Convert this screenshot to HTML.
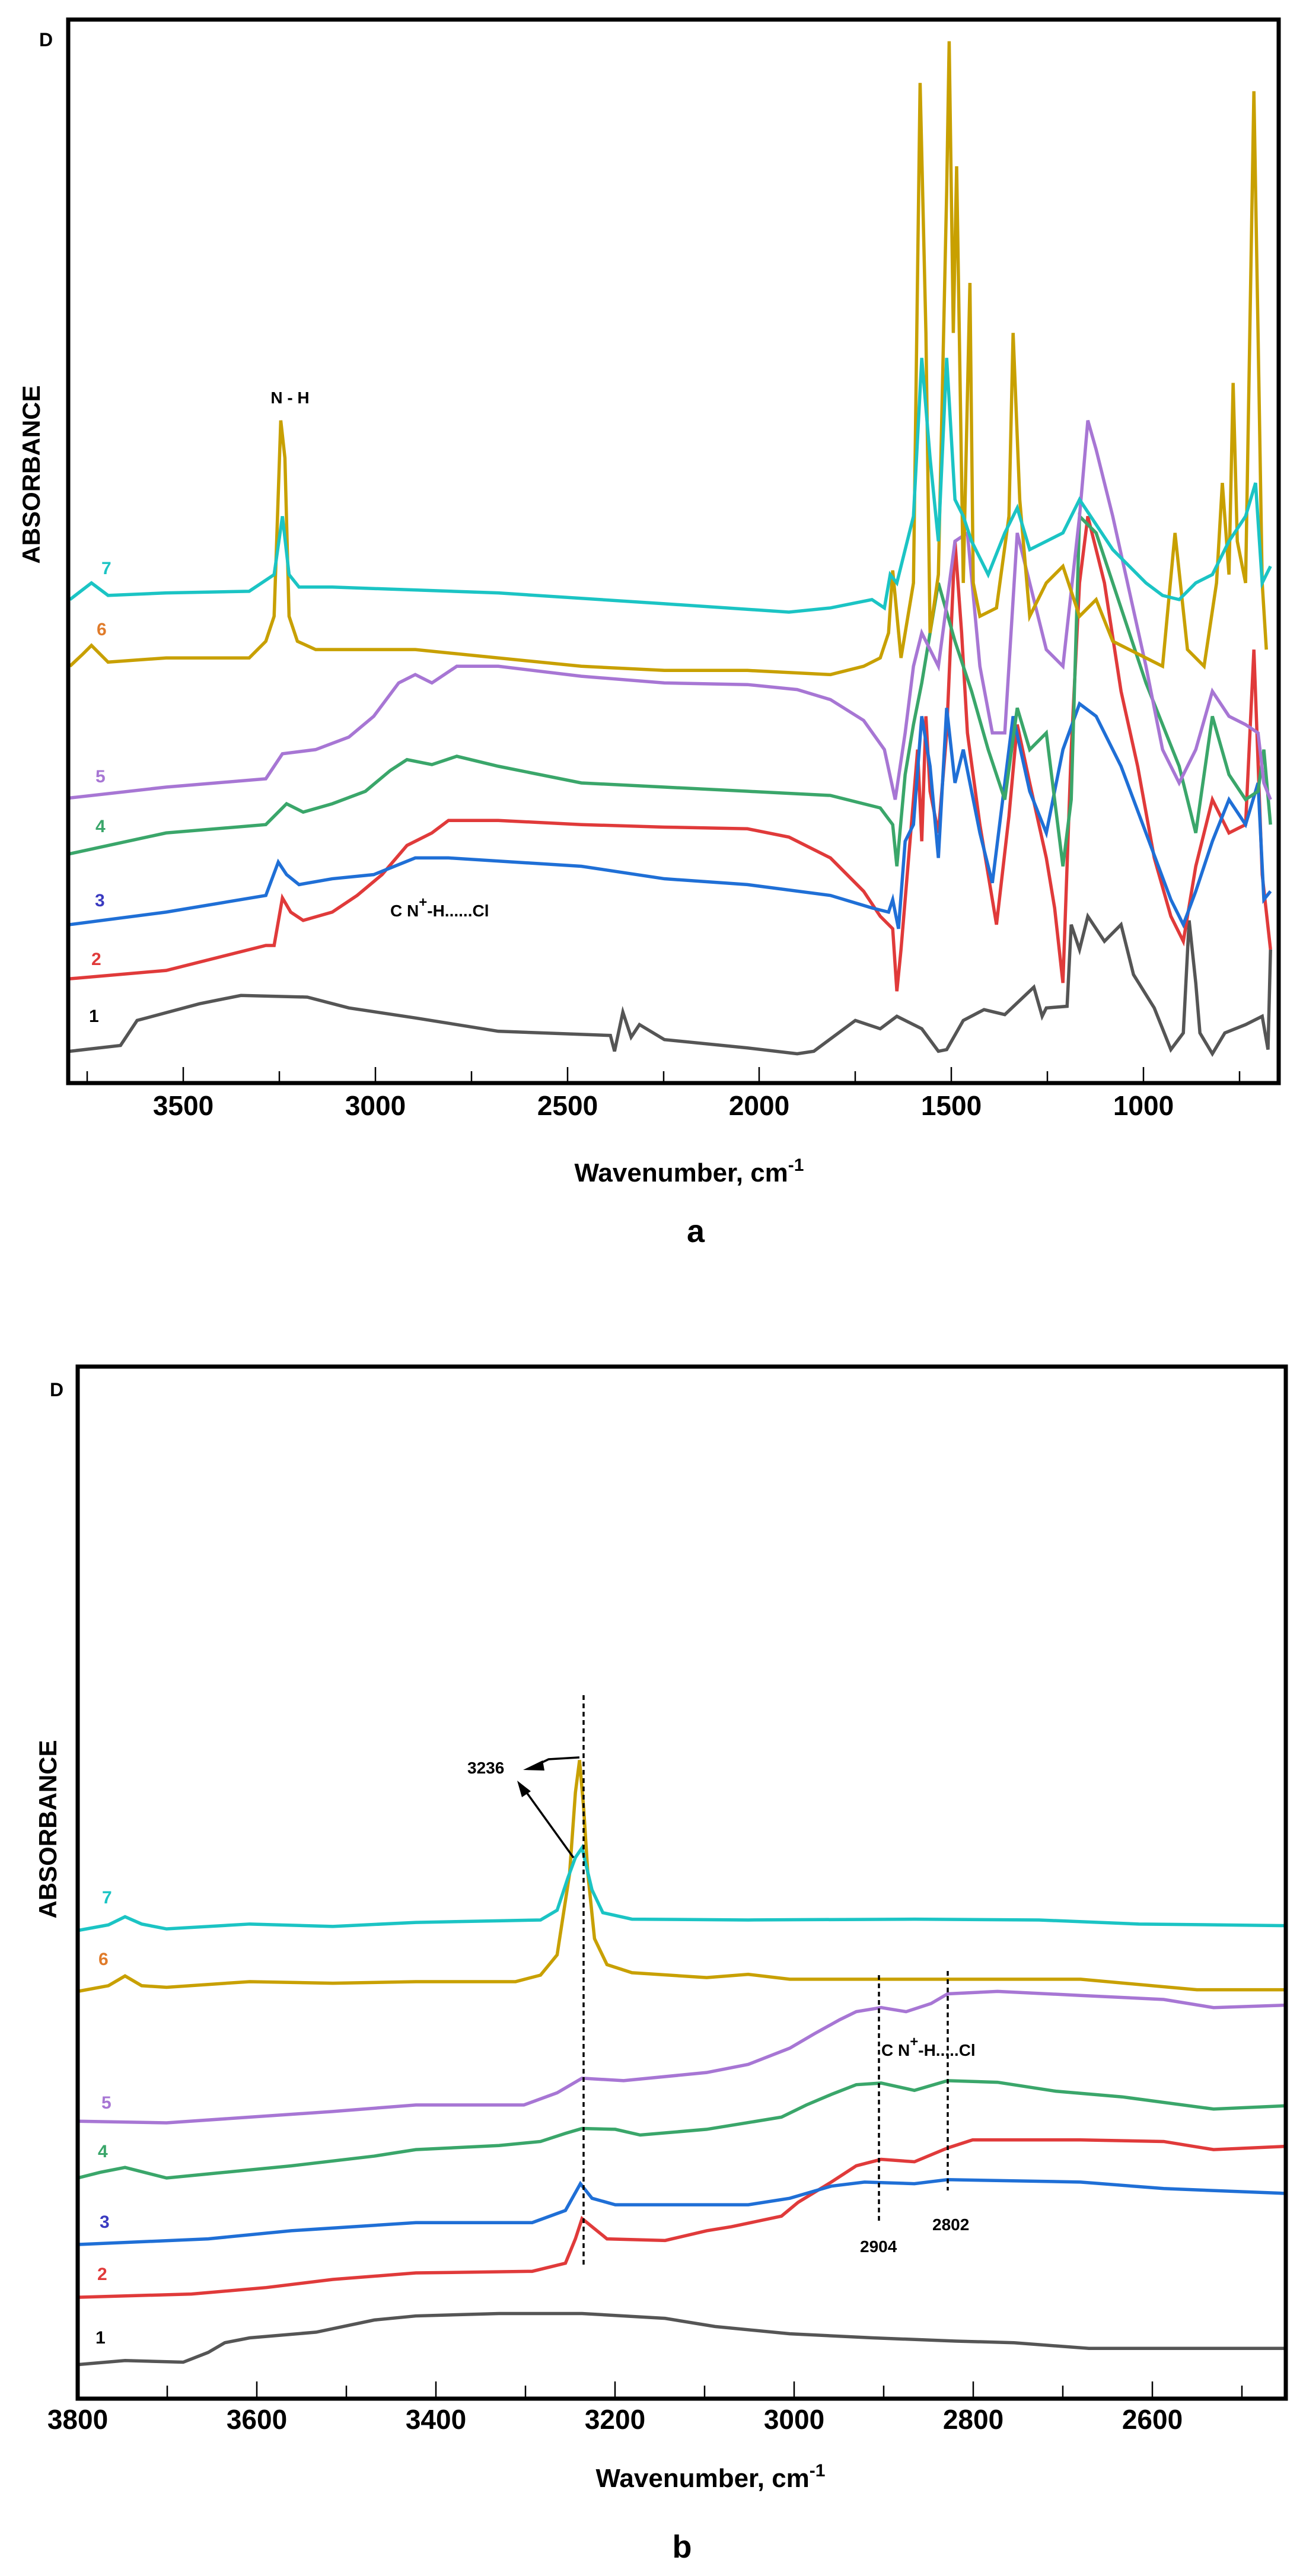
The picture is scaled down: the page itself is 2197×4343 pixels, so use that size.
<!DOCTYPE html>
<html><head><meta charset="utf-8"><style>
html,body{margin:0;padding:0;background:#fff;}
svg{display:block;}
text{font-family:"Liberation Sans",Arial,sans-serif;font-weight:bold;}
</style></head><body>
<svg width="2197" height="4343" viewBox="0 0 2197 4343" xmlns="http://www.w3.org/2000/svg">
<rect width="2197" height="4343" fill="#fff"/>

<!-- ================= PANEL A ================= -->
<g fill="none" stroke-linejoin="miter" transform="translate(0.2,-0.72) scale(1.4,1.405)">
<polyline vector-effect="non-scaling-stroke" stroke="#555" stroke-width="5.5" points="84,1262 145,1255 165,1225 240,1205 290,1195 370,1197 420,1210 500,1222 600,1238 735,1243 740,1262 750,1215 760,1245 770,1230 800,1248 900,1258 960,1265 980,1262 1030,1225 1060,1235 1080,1220 1110,1235 1130,1262 1140,1260 1160,1225 1185,1212 1210,1218 1245,1185 1255,1220 1260,1210 1285,1208 1290,1110 1300,1140 1310,1100 1330,1130 1350,1110 1365,1170 1390,1210 1410,1260 1425,1240 1432,1105 1440,1180 1445,1240 1460,1265 1475,1240 1500,1230 1520,1220 1527,1260 1530,1140"/>
<polyline vector-effect="non-scaling-stroke" stroke="#e03a3a" stroke-width="5.5" points="84,1175 200,1165 320,1135 330,1135 340,1078 350,1095 365,1105 400,1095 430,1075 460,1050 490,1015 520,1000 540,985 600,985 700,990 800,993 900,995 950,1005 1000,1030 1040,1070 1060,1100 1075,1115 1080,1190 1085,1140 1095,1020 1105,900 1110,1010 1115,860 1120,950 1130,1000 1140,880 1150,650 1158,760 1165,880 1180,990 1195,1080 1200,1110 1215,980 1225,870 1240,940 1260,1030 1270,1090 1280,1180 1290,900 1300,700 1310,620 1330,700 1350,830 1370,920 1390,1030 1410,1100 1425,1130 1440,1040 1460,960 1480,1000 1500,990 1510,780 1520,1050 1530,1140"/>
<polyline vector-effect="non-scaling-stroke" stroke="#1f6fd6" stroke-width="5.5" points="84,1110 200,1095 320,1075 335,1035 345,1050 360,1062 400,1055 450,1050 500,1030 540,1030 700,1040 800,1055 900,1062 1000,1075 1050,1090 1070,1095 1075,1080 1082,1115 1090,1010 1100,990 1110,860 1120,920 1130,1030 1140,850 1150,940 1160,900 1180,1000 1195,1060 1210,940 1220,860 1240,950 1260,1000 1280,900 1300,845 1320,860 1350,920 1380,1000 1410,1080 1425,1110 1440,1070 1460,1010 1480,960 1500,990 1515,940 1522,1080 1530,1070"/>
<polyline vector-effect="non-scaling-stroke" stroke="#3aa66a" stroke-width="5.5" points="84,1025 200,1000 320,990 345,965 365,975 400,965 440,950 470,925 490,912 520,918 550,908 600,920 700,940 800,945 900,950 1000,955 1060,970 1075,990 1080,1040 1090,930 1100,870 1110,820 1130,700 1150,770 1170,830 1190,900 1210,960 1225,850 1240,900 1260,880 1280,1040 1290,960 1300,620 1320,640 1340,700 1360,760 1380,820 1400,870 1420,920 1440,1000 1460,860 1480,930 1500,960 1515,950 1522,900 1530,990"/>
<polyline vector-effect="non-scaling-stroke" stroke="#a776d4" stroke-width="5.5" points="84,958 200,945 320,935 340,905 380,900 420,885 450,860 480,820 500,810 520,820 550,800 600,800 700,812 800,820 900,822 960,828 1000,840 1040,865 1065,900 1078,960 1090,880 1100,800 1110,760 1130,800 1150,650 1165,640 1180,800 1195,880 1210,880 1225,640 1240,700 1260,780 1280,800 1300,620 1310,505 1320,540 1340,620 1360,710 1380,800 1400,900 1420,940 1440,900 1460,830 1480,860 1500,870 1515,880 1522,940 1530,960"/>
<polyline vector-effect="non-scaling-stroke" stroke="#c8a000" stroke-width="5.5" points="84,800 100,785 110,775 130,795 200,790 300,790 320,770 330,740 338,505 343,550 348,740 358,770 380,780 500,780 600,790 700,800 800,805 900,805 1000,810 1040,800 1060,790 1070,760 1075,685 1085,790 1100,700 1108,100 1115,400 1120,760 1130,690 1140,230 1143,50 1148,400 1152,200 1160,700 1168,340 1172,700 1180,740 1200,730 1215,620 1220,400 1228,600 1240,740 1260,700 1280,680 1300,740 1320,720 1340,770 1360,780 1380,790 1400,800 1415,640 1430,780 1450,800 1465,700 1472,580 1480,690 1485,460 1490,650 1500,700 1510,110 1515,400 1520,700 1525,780"/>
<polyline vector-effect="non-scaling-stroke" stroke="#1bc4c4" stroke-width="5.5" points="84,720 110,700 130,715 200,712 300,710 330,690 340,620 348,690 360,705 400,705 600,712 800,725 950,735 1000,730 1050,720 1065,730 1072,690 1080,700 1100,620 1110,430 1120,550 1130,650 1140,430 1150,600 1160,620 1170,650 1190,690 1210,640 1225,610 1240,660 1260,650 1280,640 1300,600 1320,630 1340,660 1360,680 1380,700 1400,715 1420,720 1440,700 1460,690 1480,650 1500,620 1512,580 1520,700 1530,680"/>
</g>
<rect x="115" y="33" width="2041" height="1793" fill="none" stroke="#000" stroke-width="7"/>
<g stroke="#000" stroke-width="2.5">
<line x1="147" y1="1826" x2="147" y2="1806"/><line x1="309" y1="1826" x2="309" y2="1799"/>
<line x1="471" y1="1826" x2="471" y2="1806"/><line x1="633" y1="1826" x2="633" y2="1799"/>
<line x1="795" y1="1826" x2="795" y2="1806"/><line x1="957" y1="1826" x2="957" y2="1799"/>
<line x1="1119" y1="1826" x2="1119" y2="1806"/><line x1="1280" y1="1826" x2="1280" y2="1799"/>
<line x1="1442" y1="1826" x2="1442" y2="1806"/><line x1="1604" y1="1826" x2="1604" y2="1799"/>
<line x1="1766" y1="1826" x2="1766" y2="1806"/><line x1="1928" y1="1826" x2="1928" y2="1799"/>
<line x1="2090" y1="1826" x2="2090" y2="1806"/>
</g>
<g font-size="46" text-anchor="middle" fill="#000">
<text x="309" y="1880">3500</text><text x="633" y="1880">3000</text><text x="957" y="1880">2500</text>
<text x="1280" y="1880">2000</text><text x="1604" y="1880">1500</text><text x="1928" y="1880">1000</text>
</g>
<text x="1162" y="1992" font-size="44" text-anchor="middle">Wavenumber, cm<tspan font-size="30" dy="-18">-1</tspan></text>
<text x="1173" y="2094" font-size="54" text-anchor="middle">a</text>
<text x="66" y="78" font-size="32">D</text>
<text transform="translate(67,800) rotate(-90)" font-size="42" text-anchor="middle">ABSORBANCE</text>
<g font-size="30">
<text x="171" y="968" fill="#1bc4c4">7</text>
<text x="163" y="1071" fill="#e07b2a">6</text>
<text x="161" y="1319" fill="#a776d4">5</text>
<text x="161" y="1403" fill="#3aa66a">4</text>
<text x="160" y="1528" fill="#3a3ac0">3</text>
<text x="154" y="1627" fill="#e03a3a">2</text>
<text x="150" y="1723" fill="#000">1</text>
</g>
<text x="489" y="680" font-size="28" text-anchor="middle">N - H</text>
<text x="658" y="1545" font-size="28">C N<tspan font-size="24" dy="-16">+</tspan><tspan dy="16">-H......Cl</tspan></text>

<!-- ================= PANEL B ================= -->
<g fill="none" transform="translate(0.7,2201.4) scale(1.401,1.368)">
<polyline vector-effect="non-scaling-stroke" stroke="#555" stroke-width="5.5" points="93,1305 150,1300 220,1302 250,1290 270,1278 300,1272 380,1265 450,1250 500,1245 600,1242 700,1242 800,1248 860,1258 950,1267 1050,1272 1150,1276 1220,1278 1310,1285 1547,1285"/>
<polyline vector-effect="non-scaling-stroke" stroke="#e03a3a" stroke-width="5.5" points="93,1222 230,1218 320,1210 400,1200 500,1192 640,1190 680,1180 692,1150 700,1125 712,1135 730,1150 800,1152 850,1140 880,1135 940,1122 960,1105 1000,1080 1030,1060 1060,1052 1100,1055 1140,1038 1170,1028 1200,1028 1300,1028 1400,1030 1460,1040 1547,1036"/>
<polyline vector-effect="non-scaling-stroke" stroke="#1f6fd6" stroke-width="5.5" points="93,1157 250,1150 350,1140 500,1130 640,1130 680,1115 698,1082 712,1100 740,1108 900,1108 950,1100 1000,1085 1040,1080 1100,1082 1140,1077 1300,1080 1400,1088 1547,1094"/>
<polyline vector-effect="non-scaling-stroke" stroke="#3aa66a" stroke-width="5.5" points="93,1075 120,1068 150,1062 200,1075 250,1070 350,1060 450,1048 500,1040 600,1035 650,1030 680,1020 700,1014 740,1015 770,1022 850,1015 940,1000 970,985 1000,972 1030,960 1060,958 1100,967 1140,955 1200,957 1270,968 1350,975 1460,990 1547,986"/>
<polyline vector-effect="non-scaling-stroke" stroke="#a776d4" stroke-width="5.5" points="93,1005 200,1007 300,1000 400,993 500,985 630,985 670,970 700,952 750,955 850,945 900,935 950,915 980,897 1010,880 1030,870 1060,865 1090,870 1120,860 1140,848 1200,845 1300,850 1400,855 1460,865 1547,862"/>
<polyline vector-effect="non-scaling-stroke" stroke="#c8a000" stroke-width="5.5" points="93,845 130,838 150,826 170,838 200,840 300,833 400,835 500,833 620,833 650,825 670,800 685,700 692,600 697,560 702,620 707,700 715,780 730,812 760,822 850,828 900,824 950,830 1100,830 1300,830 1440,843 1547,843"/>
<polyline vector-effect="non-scaling-stroke" stroke="#1bc4c4" stroke-width="5.5" points="93,770 130,763 150,753 170,762 200,768 300,762 400,765 500,760 600,758 650,757 670,745 683,705 692,680 700,668 705,690 712,720 725,748 760,756 900,757 1100,756 1250,757 1370,762 1547,764"/>
</g>
<rect x="131" y="2304" width="2037" height="1740" fill="none" stroke="#000" stroke-width="7"/>
<g stroke="#000" stroke-width="2.5">
<line x1="282" y1="4044" x2="282" y2="4022"/><line x1="433" y1="4044" x2="433" y2="4015"/>
<line x1="584" y1="4044" x2="584" y2="4022"/><line x1="735" y1="4044" x2="735" y2="4015"/>
<line x1="886" y1="4044" x2="886" y2="4022"/><line x1="1037" y1="4044" x2="1037" y2="4015"/>
<line x1="1188" y1="4044" x2="1188" y2="4022"/><line x1="1339" y1="4044" x2="1339" y2="4015"/>
<line x1="1490" y1="4044" x2="1490" y2="4022"/><line x1="1641" y1="4044" x2="1641" y2="4015"/>
<line x1="1792" y1="4044" x2="1792" y2="4022"/><line x1="1943" y1="4044" x2="1943" y2="4015"/>
<line x1="2094" y1="4044" x2="2094" y2="4022"/>
</g>
<g font-size="46" text-anchor="middle" fill="#000">
<text x="131" y="4095">3800</text><text x="433" y="4095">3600</text><text x="735" y="4095">3400</text>
<text x="1037" y="4095">3200</text><text x="1339" y="4095">3000</text><text x="1641" y="4095">2800</text>
<text x="1943" y="4095">2600</text>
</g>
<text x="1198" y="4193" font-size="44" text-anchor="middle">Wavenumber, cm<tspan font-size="30" dy="-18">-1</tspan></text>
<text x="1150" y="4312" font-size="54" text-anchor="middle">b</text>
<text x="84" y="2354" font-size="32">D</text>
<text transform="translate(95,3084) rotate(-90)" font-size="42" text-anchor="middle">ABSORBANCE</text>
<g font-size="30">
<text x="172" y="3209" fill="#1bc4c4">7</text>
<text x="166" y="3313" fill="#e07b2a">6</text>
<text x="171" y="3555" fill="#a776d4">5</text>
<text x="165" y="3637" fill="#3aa66a">4</text>
<text x="168" y="3756" fill="#3a3ac0">3</text>
<text x="164" y="3844" fill="#e03a3a">2</text>
<text x="161" y="3951" fill="#000">1</text>
</g>
<g stroke="#000" stroke-width="3.5" stroke-dasharray="8,6" fill="none">
<line x1="984" y1="2858" x2="984" y2="3820"/>
<line x1="1482" y1="3330" x2="1482" y2="3745"/>
<line x1="1598" y1="3323" x2="1598" y2="3693"/>
</g>
<g stroke="#000" stroke-width="3.5" fill="none">
<polyline points="977,2963 975,2963 925,2966 900,2978"/>
<line x1="967" y1="3132" x2="885" y2="3018"/>
</g>
<polygon points="882,2984 915,2968 918,2985" fill="#000"/>
<polygon points="872,3002 880,3030 895,3020" fill="#000"/>
<g font-size="28">
<text x="788" y="2990">3236</text>
<text x="1450" y="3797">2904</text>
<text x="1572" y="3760">2802</text>
<text x="1486" y="3466">C N<tspan dy="-16" font-size="24">+</tspan><tspan dy="16">-H.....Cl</tspan></text>
</g>
</svg>
</body></html>
